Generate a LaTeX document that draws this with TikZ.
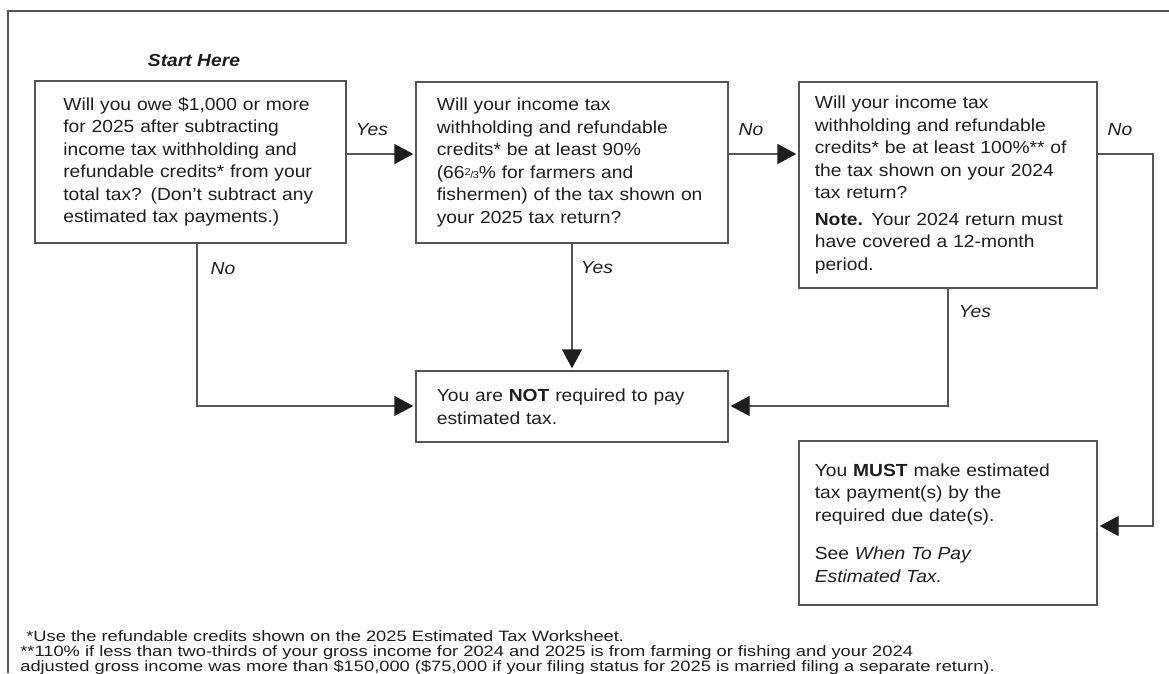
\documentclass[tikz,border=0pt]{standalone}
\usepackage{fontspec}
\setmainfont{Liberation Sans}[FakeStretch=1.10]
\newfontfamily\footfont{Liberation Sans}[FakeStretch=1.22]
\usetikzlibrary{arrows.meta,calc}
\definecolor{ink}{HTML}{1E1E1E}
\definecolor{rule}{HTML}{555555}
\begin{document}
\begin{tikzpicture}[x=0.6pt,y=-0.6pt,
  box/.style={draw=rule,line width=0.8pt,rectangle,align=left,text=ink,
    font=\fontsize{10.5pt}{13.5pt}\selectfont,inner ysep=0pt},
  lab/.style={text=ink,font=\fontsize{10.5pt}{13.5pt}\selectfont\itshape,inner sep=0pt},
  conn/.style={draw=rule,line width=0.8pt},
  arr/.style={conn,-{Triangle[length=11.4pt,width=12pt,color=ink]},shorten >=1.2pt},
  fn/.style={anchor=base west,text=ink,inner sep=0pt,font=\footfont\fontsize{9pt}{9pt}\selectfont}
]
\useasboundingbox (0,0) rectangle (1169,673);
% outer frame (top and left edges)
\draw[rule,line width=0.8pt] (1169,11) -- (8,11) -- (8,673);

\node[lab,font=\fontsize{10.5pt}{13.5pt}\selectfont\bfseries\itshape] (start) at (194,60) {Start Here};

\node[box,minimum width=186.6pt,minimum height=97.2pt,inner xsep=17pt,text width=152.6pt] (q1) at (190.5,162)
 {Will you owe \$1,000 or more\\ for 2025 after subtracting\\ income tax withholding and\\ refundable credits* from your\\ total tax? (Don’t subtract any\\ estimated tax payments.)};

\node[box,minimum width=187.2pt,minimum height=96.6pt,inner xsep=12.5pt,text width=162.2pt] (q2) at (572,162.5)
 {Will your income tax\\ withholding and refundable\\ credits* be at least 90\%\\ (66{\fontsize{6pt}{6pt}\selectfont\raisebox{0.55ex}{2}\kern-0.05em/\kern-0.05em3}\% for farmers and\\ fishermen) of the tax shown on\\ your 2025 tax return?};

\node[box,minimum width=178.8pt,minimum height=123.6pt,inner xsep=9.5pt,text width=159.8pt] (q3) at (948,185)
 {Will your income tax\\ withholding and refundable\\ credits* be at least 100\%** of\\ the tax shown on your 2024\\ tax return?\\[2.4pt] \textbf{Note.} Your 2024 return must\\ have covered a 12-month\\ period.};

\node[box,minimum width=187.2pt,minimum height=42.6pt,inner xsep=12.5pt,text width=162.2pt] (not) at (572,406.5)
 {You are \textbf{NOT} required to pay\\ estimated tax.};

\node[box,minimum width=178.8pt,minimum height=98.4pt,inner xsep=9.5pt,text width=159.8pt] (must) at (948,523)
 {You \textbf{MUST} make estimated\\ tax payment(s) by the\\ required due date(s).\\[9.6pt] See \textit{When To Pay}\\ \textit{Estimated Tax.}};

% helper rows / columns
\coordinate (ya) at (0,154);
\coordinate (c1) at (197,0);
\coordinate (cr) at (1153,0);
\coordinate (yn) at (0,406);
\coordinate (ym) at (0,526);

% connectors
\draw[arr] (q1.east |- ya) -- (q2.west |- ya);
\draw[arr] (q2.east |- ya) -- (q3.west |- ya);
\draw[arr] (q3.east |- ya) -- (cr |- ya) -- (cr |- ym) -- (must.east |- ym);
\draw[arr] (q1.south -| c1) -- (c1 |- yn) -- (not.west |- yn);
\draw[arr] (q2.south) -- (not.north);
\draw[arr] (q3.south) -- (q3.south |- yn) -- (not.east |- yn);

% labels
\node[lab] (l1) at (372,130) {Yes};
\node[lab] (l2) at (751,130) {No};
\node[lab] (l3) at (1120,130) {No};
\node[lab] (l4) at (223,269) {No};
\node[lab] (l5) at (597,268) {Yes};
\node[lab] (l6) at (975,312) {Yes};

% footnotes
\node[fn] (f1) at (26,641) {*Use the refundable credits shown on the 2025 Estimated Tax Worksheet.};
\node[fn] (f2) at (20,656) {**110\% if less than two-thirds of your gross income for 2024 and 2025 is from farming or fishing and your 2024};
\node[fn] (f3) at (20,671) {adjusted gross income was more than \$150,000 (\$75,000 if your filing status for 2025 is married filing a separate return).};
\end{tikzpicture}
\end{document}
